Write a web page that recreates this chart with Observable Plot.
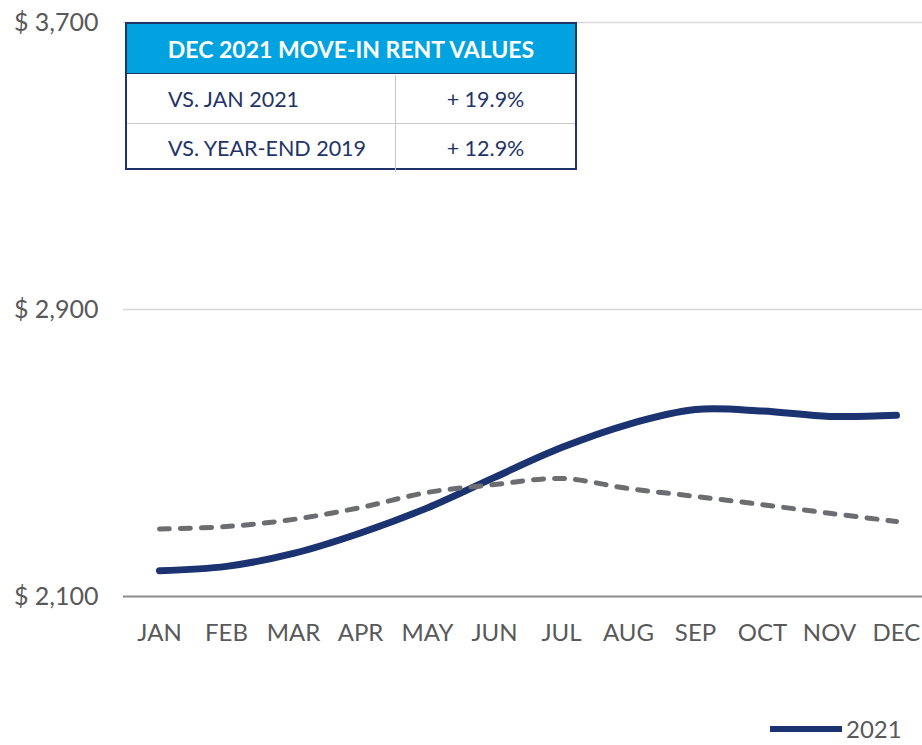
<!DOCTYPE html>
<html>
<head>
<meta charset="utf-8">
<script src="https://cdn.jsdelivr.net/npm/d3@7"></script>
<script src="https://cdn.jsdelivr.net/npm/@observablehq/plot@0.6"></script>
<style>
  html, body { margin: 0; padding: 0; background: #fff; }
  #wrap { position: relative; width: 922px; height: 745px; font-family: Lato, "Open Sans", sans-serif; }
  #chart { position: absolute; left: 0; top: 0; }
  #tbl { position: absolute; left: 125px; top: 22px; width: 452px; height: 148px; box-sizing: border-box; border: 2.5px solid #1F3468; background: #fff; }
  #tbl .hdr { position: absolute; left: 0; top: 0; right: 0; height: 49px; background: #00A3E0; color: #fff; font-weight: 700; font-size: 23px; display: flex; align-items: center; justify-content: center; border-bottom: 1.5px solid #1F3468; }
  #tbl .row { position: absolute; left: 0; right: 0; height: 48px; color: #1F3468; font-size: 21.5px; }
  #tbl .row .lab { position: absolute; left: 41px; top: 0; height: 100%; display: flex; align-items: center; }
  #tbl .row .val { position: absolute; left: 268px; right: 0; top: 0; height: 100%; display: flex; align-items: center; justify-content: center; border-left: 1px solid #C8C8C8; }
  #legend { position: absolute; left: 770px; top: 712px; width: 145px; height: 34px; display: flex; align-items: center; white-space: nowrap; }
  #legend .sw { width: 72px; height: 6px; background: #1B3370; margin-right: 4px; flex: none; }
  #legend .tx { font-size: 24px; color: #595959; line-height: 1; }
</style>
</head>
<body>
<div id="wrap">
  <div id="chart"></div>
  <div id="tbl"></div>
  <div id="legend"></div>
</div>
<script>
// ---- data ----
const months = ["JAN", "FEB", "MAR", "APR", "MAY", "JUN", "JUL", "AUG", "SEP", "OCT", "NOV", "DEC"];
const rent2021 = [2172, 2184, 2220, 2277, 2347, 2432, 2515, 2580, 2621, 2617, 2602, 2605];
const rentPrior = [2288, 2295, 2315, 2348, 2390, 2412, 2429, 2401, 2379, 2356, 2332, 2309];
const yTicks = [2100, 2900, 3700];
const tableTitle = "DEC 2021 MOVE-IN RENT VALUES";
const tableLabels = ["VS. JAN 2021", "VS. YEAR-END 2019"];
const tableValues = ["+ 19.9%", "+ 12.9%"];
const legendLabel = "2021";

const solid = months.map((m, i) => ({month: m, value: rent2021[i]}));
const dashed = months.map((m, i) => ({month: m, value: rentPrior[i]}));

const fmt = d => "$ " + d3.format(",")(d);

const chart = Plot.plot({
  width: 922,
  height: 660,
  marginLeft: 123,
  marginRight: 0,
  marginTop: 20,
  marginBottom: 64,
  style: {fontFamily: "Lato, 'Open Sans', sans-serif", fontSize: "24px", color: "#595959", background: "white"},
  x: {type: "point", domain: months, range: [157, 897], padding: 0},
  y: {domain: [2100, 3700], range: [596, 22]},
  marks: [
    Plot.ruleY(yTicks.filter(d => d !== 2100), {stroke: "#D9D9D9", strokeWidth: 1.5}),
    Plot.ruleY([2100], {stroke: "#8C8C8C", strokeWidth: 2}),
    Plot.axisY({ticks: yTicks, anchor: "left", tickSize: 0, tickPadding: 25, tickFormat: fmt, label: null, fontSize: 25, fill: "#595959"}),
    Plot.axisX({anchor: "bottom", tickSize: 0, tickPadding: 27, label: null, fontSize: 24, fill: "#595959"}),
    Plot.line(solid, {x: "month", y: "value", curve: "catmull-rom", stroke: "#1B3370", strokeWidth: 7, strokeLinecap: "round"}),
    Plot.line(dashed, {x: "month", y: "value", curve: "catmull-rom", stroke: "#6B6D71", strokeWidth: 5, strokeDasharray: "10,11", strokeLinecap: "round"})
  ]
});
document.getElementById("chart").appendChild(chart);

// table
const tbl = document.getElementById("tbl");
const hdr = document.createElement("div");
hdr.className = "hdr";
hdr.textContent = tableTitle;
tbl.appendChild(hdr);
tableLabels.forEach((lab, i) => {
  const row = document.createElement("div");
  row.className = "row";
  row.style.top = (49 + 1.5 + i * 48) + "px";
  if (i > 0) row.style.borderTop = "1px solid #C8C8C8";
  const l = document.createElement("div"); l.className = "lab"; l.textContent = lab;
  const v = document.createElement("div"); v.className = "val"; v.textContent = tableValues[i];
  row.appendChild(l); row.appendChild(v);
  tbl.appendChild(row);
});

// legend
const lg = document.getElementById("legend");
lg.innerHTML = '<div class="sw"></div><div class="tx"></div>';
lg.querySelector(".tx").textContent = legendLabel;
</script>
</body>
</html>
